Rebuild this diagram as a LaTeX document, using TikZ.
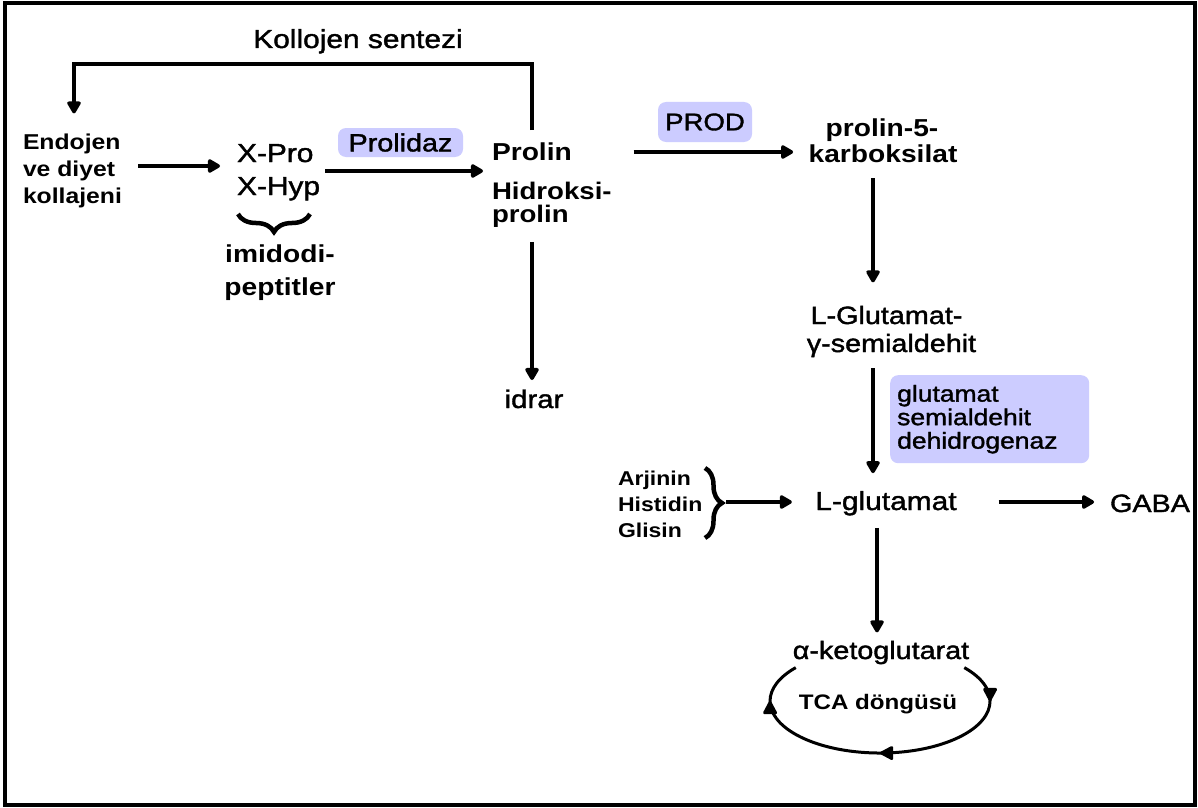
\documentclass[tikz,border=0pt]{standalone}
\usepackage{fontspec}
\setmainfont{Liberation Sans}[FakeStretch=1.15]
\newfontfamily\rg{Liberation Sans}[FakeStretch=1.15, FakeBold=1.5]
\usetikzlibrary{arrows.meta,decorations.pathreplacing,decorations.markings}
\definecolor{lav}{RGB}{204,204,255}
\newcommand\pxs[1]{\fontsize{#1bp}{#1bp}\selectfont}
\begin{document}
\begin{tikzpicture}[x=1bp,y=-1bp,
  lbl/.style={inner sep=0pt, outer sep=0pt, anchor=base},
  lblw/.style={lbl, anchor=base west},
  arr/.style={line width=4.5bp, -{Triangle[length=14bp,width=15bp,round]}},
  enzbox/.style={fill=lav, rounded corners=8bp, inner sep=0pt},
  brc/.style={line width=4.5bp, decorate, decoration={brace, amplitude=#1}},
  cyc/.style={line width=3bp},
  cyctip/.style={decoration={markings,
    mark=at position 0.126 with {\arrow[line width=3bp]{Triangle[length=15bp,width=15bp,round]}},
    mark=at position 0.5 with {\arrow[line width=3bp]{Triangle[length=15bp,width=15bp,round]}},
    mark=at position 0.874 with {\arrow[line width=3bp]{Triangle[length=15bp,width=15bp,round]}}},
    postaction={decorate}}]

\fill[white] (0,0) rectangle (1198,808);
\useasboundingbox (0,0) rectangle (1198,808);
\draw[line width=4bp] (5,3) rectangle (1195,805);

% rows and columns used by the connectors
\coordinate (rowA) at (0,166);
\coordinate (rowB) at (0,171);
\coordinate (rowC) at (0,152);
\coordinate (rowD) at (0,502);
\coordinate (rowT) at (0,64);
\coordinate (colP) at (532,0);
\coordinate (colE) at (74,0);
\coordinate (colR) at (873,0);
\coordinate (colG) at (877,0);

% labels
\node[lbl] (kol) at (358,48) {\rg\pxs{26}Kollojen sentezi};

\node[lblw] (endoA) at (23,149) {\pxs{21.5}\bfseries Endojen};
\node[lblw] (endoB) at (23,176) {\pxs{21.5}\bfseries ve diyet};
\node[lblw] (endoC) at (23,203) {\pxs{21.5}\bfseries kollajeni};

\node[lblw] (xpro) at (237,162) {\rg\pxs{26}X-Pro};
\node[lblw] (xhyp) at (237,195) {\rg\pxs{26}X-Hyp};
\draw[brc=18bp] (310,214) -- (238,214);
\node[lbl] (imid) at (280,262) {\pxs{24.5}\bfseries imidodi-};
\node[lbl] (pept) at (280,295) {\pxs{24.5}\bfseries peptitler};

\node[enzbox, minimum width=125bp, minimum height=29bp] (prld) at (400.5,142.5) {\rg\pxs{25}Prolidaz};

\node[lblw] (prolin) at (492,160) {\pxs{24.5}\bfseries Prolin};
\node[lblw] (hypA) at (492,199) {\pxs{24}\bfseries Hidroksi-};
\node[lblw] (hypB) at (492,222) {\pxs{24}\bfseries prolin};

\node[lbl] (idrar) at (534,408) {\rg\pxs{25.5}idrar};

\node[enzbox, minimum width=94bp, minimum height=40bp] (prod) at (705,122) {\rg\pxs{24}PROD};

\node[lbl] (pcA) at (882,136.5) {\pxs{24.5}\bfseries prolin-5-};
\node[lbl] (pcB) at (883,162.5) {\pxs{24.5}\bfseries karboksilat};

\node[lbl] (gsA) at (886.5,324) {\rg\pxs{25}L-Glutamat-};
\node[lbl] (gsB) at (891.5,352) {\rg\pxs{25}γ-semialdehit};

\node[enzbox, anchor=north west, text width=185bp, inner xsep=7bp,
      minimum height=88bp, align=left,
      font=\rg\fontsize{23bp}{23.5bp}\selectfont] (gsdh) at (890,375)
      {glutamat\\semialdehit\\dehidrogenaz};

\node[lblw] (arj) at (618,485) {\pxs{20}\bfseries Arjinin};
\node[lblw] (his) at (618,511) {\pxs{20}\bfseries Histidin};
\node[lblw] (gli) at (618,537) {\pxs{20}\bfseries Glisin};
\draw[brc=17bp] (705,468) -- (705,538);
\coordinate (btip) at (726,502);

\node[lbl] (lglu) at (886,510) {\rg\pxs{26}L-glutamat};
\node[lbl] (gaba) at (1150,512) {\rg\pxs{25}GABA};
\node[lbl] (akg) at (881,659) {\rg\pxs{25}α-ketoglutarat};
\node[lbl] (tca) at (878,709) {\pxs{21}\bfseries TCA döngüsü};

% connectors
\draw[arr, shorten <=12bp, shorten >=20bp]
  (prolin.north -| colP) |- (colE |- rowT) -- (colE |- endoA.north);
\draw[arr, shorten <=23bp, shorten >=17bp] (endoB.east |- rowA) -- (xpro.west |- rowA);
\draw[arr, shorten <=5bp, shorten >=9bp] (xhyp.east |- rowB) -- (prolin.west |- rowB);
\draw[arr, shorten <=22bp, shorten >=15.5bp] (hypA.east |- rowC) -- (pcB.west |- rowC);
\draw[arr, shorten <=15bp, shorten >=9.5bp] (hypB.south -| colP) -- (idrar.north -| colP);
\draw[arr, shorten <=15.5bp, shorten >=23.5bp] (pcB.south -| colR) -- (gsA.north -| colR);
\draw[arr, shorten <=11bp, shorten >=18bp] (gsB.south -| colR) -- (lglu.north -| colR);
\draw[arr, shorten >=23.5bp] (btip) -- (lglu.west |- btip);
\draw[arr, shorten <=42bp, shorten >=16bp] (lglu.east |- rowD) -- (gaba.west |- rowD);
\draw[arr, shorten <=12.5bp, shorten >=8.5bp] (lglu.south -| colG) -- (akg.north -| colG);

% TCA cycle
\draw[cyc, cyctip]
  (964.3,667.6) arc[start angle=-40, end angle=220, x radius=110, y radius=52];
\end{tikzpicture}
\end{document}
